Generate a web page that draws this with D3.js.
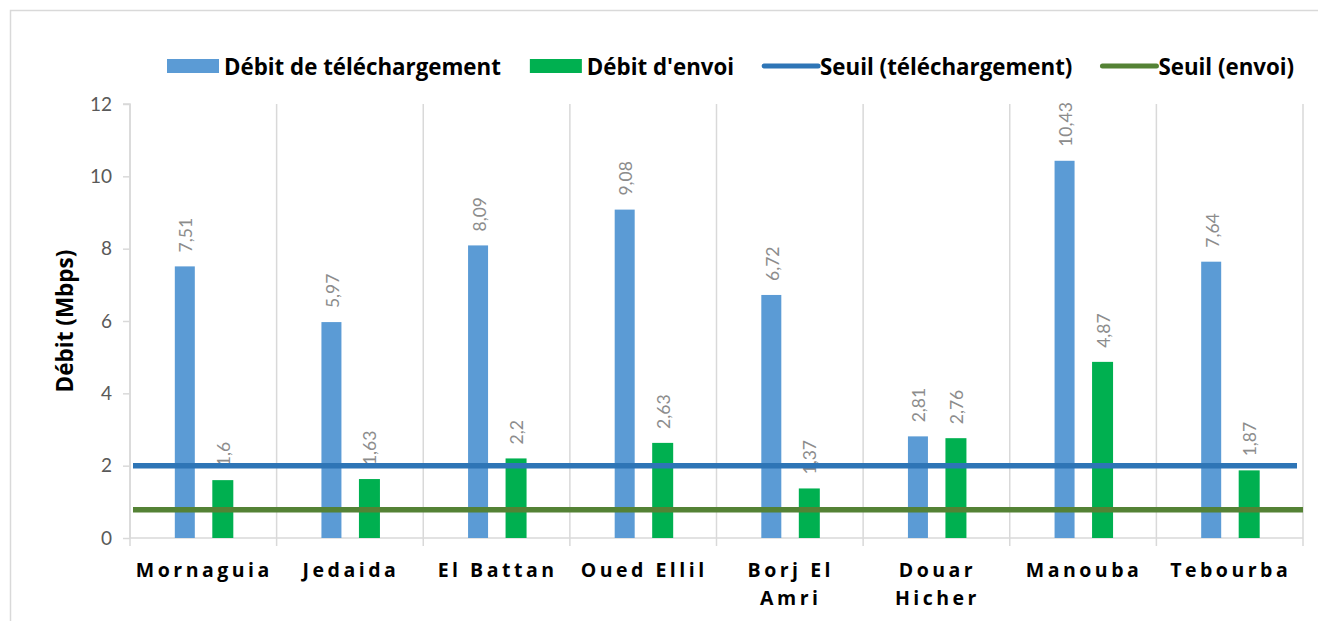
<!DOCTYPE html>
<html>
<head>
<meta charset="utf-8">
<script src="https://cdn.jsdelivr.net/npm/d3@7"></script>
<style>
  html, body { margin: 0; padding: 0; background: #ffffff; }
  svg { display: block; }
  text { font-family: Lato, "Open Sans", sans-serif; }
  .bold { font-family: "Open Sans", Lato, sans-serif; font-weight: bold; }
</style>
</head>
<body>
<svg id="chart" width="1318" height="621"></svg>
<script>
// Délégations (two-line labels are split into lines)
const categories = ["Mornaguia", "Jedaida", "El Battan", "Oued Ellil", "Borj El Amri", "Douar Hicher", "Manouba", "Tebourba"];
const categoryLines = [["Mornaguia"], ["Jedaida"], ["El Battan"], ["Oued Ellil"], ["Borj El", "Amri"], ["Douar", "Hicher"], ["Manouba"], ["Tebourba"]];

// Measured speeds in Mbps
const downloadValues = [7.51, 5.97, 8.09, 9.08, 6.72, 2.81, 10.43, 7.64];
const uploadValues = [1.6, 1.63, 2.2, 2.63, 1.37, 2.76, 4.87, 1.87];

// Reference thresholds in Mbps
const thresholdDownload = 2;
const thresholdUpload = 0.78;

const yTicks = [0, 2, 4, 6, 8, 10, 12];

const seriesNames = ["Débit de téléchargement", "Débit d'envoi", "Seuil (téléchargement)", "Seuil (envoi)"];

const colors = {
  download: "#5b9bd5",
  upload: "#00b050",
  lineDownload: "#2e75b6",
  lineUpload: "#548235"
};

const fmt = v => String(v).replace(".", ",");

const svg = d3.select("#chart");

// outer frame
svg.append("rect")
  .attr("x", 10.5).attr("y", 10.5)
  .attr("width", 1400).attr("height", 700)
  .attr("fill", "none").attr("stroke", "#d9d9d9").attr("stroke-width", 1.5);

const plot = { left: 130, right: 1303, top: 104, bottom: 538 };

const x = d3.scaleBand().domain(categories).range([plot.left, plot.right]).padding(0);
const y = d3.scaleLinear().domain([0, 12]).range([plot.bottom, plot.top]);

const barW = 20;
const offDown = -18.5;
const offUp = 19;

// vertical separators between categories
const bounds = categories.map(c => x(c)).concat([plot.right]);
svg.append("g").selectAll("line").data(bounds).join("line")
  .attr("x1", d => d).attr("x2", d => d)
  .attr("y1", plot.top).attr("y2", plot.bottom + 8)
  .attr("stroke", "#d9d9d9").attr("stroke-width", 1.5);

// y axis
const yAxis = svg.append("g")
  .attr("transform", `translate(${plot.left},0)`)
  .call(d3.axisLeft(y).tickValues(yTicks).tickSize(7).tickPadding(11).tickFormat(d => d));
yAxis.select(".domain").attr("stroke", "#d9d9d9").attr("stroke-width", 1.5)
  .attr("d", `M-7,${plot.top}H0V${plot.bottom}`);
yAxis.selectAll(".tick line").attr("stroke", "#d9d9d9").attr("stroke-width", 1.5);
yAxis.selectAll(".tick text")
  .attr("fill", "#595959").style("font-size", "19px")
  .style("font-family", "Lato, sans-serif");

// x baseline
svg.append("line")
  .attr("x1", plot.left).attr("x2", plot.right)
  .attr("y1", plot.bottom).attr("y2", plot.bottom)
  .attr("stroke", "#d9d9d9").attr("stroke-width", 1.5);

// y axis title
svg.append("text")
  .attr("class", "bold")
  .attr("transform", "translate(73,321) rotate(-90)")
  .attr("text-anchor", "middle")
  .attr("font-size", 22.5).attr("fill", "#000")
  .text("Débit (Mbps)");

// bars
const cx = c => x(c) + x.bandwidth() / 2;
svg.append("g").selectAll("rect").data(categories).join("rect")
  .attr("x", (c, i) => cx(c) + offDown - barW / 2)
  .attr("y", (c, i) => y(downloadValues[i]))
  .attr("width", barW)
  .attr("height", (c, i) => y(0) - y(downloadValues[i]))
  .attr("fill", colors.download);

svg.append("g").selectAll("rect").data(categories).join("rect")
  .attr("x", (c, i) => cx(c) + offUp - barW / 2)
  .attr("y", (c, i) => y(uploadValues[i]))
  .attr("width", barW + 1)
  .attr("height", (c, i) => y(0) - y(uploadValues[i]))
  .attr("fill", colors.upload);

// value labels (rotated)
function addLabels(values, off) {
  svg.append("g").selectAll("text").data(categories).join("text")
    .attr("transform", (c, i) => `translate(${cx(c) + off + 1},${y(values[i]) - 14}) rotate(-90)`)
    .attr("text-anchor", "start")
    .attr("dominant-baseline", "central")
    .attr("font-size", 17.5).attr("fill", "#8c8c8c")
    .text((c, i) => fmt(values[i]));
}
addLabels(downloadValues, offDown);
addLabels(uploadValues, offUp);

// threshold lines (drawn over labels)
svg.append("line")
  .attr("x1", plot.left + 3).attr("x2", plot.right - 6)
  .attr("y1", y(thresholdDownload)).attr("y2", y(thresholdDownload))
  .attr("stroke", colors.lineDownload).attr("stroke-width", 5.5);
svg.append("line")
  .attr("x1", plot.left + 3).attr("x2", plot.right)
  .attr("y1", y(thresholdUpload)).attr("y2", y(thresholdUpload))
  .attr("stroke", colors.lineUpload).attr("stroke-width", 5.5);

// category labels
const xl = svg.append("g").selectAll("text").data(categories).join("text")
  .attr("class", "bold")
  .attr("x", c => cx(c))
  .attr("y", 577)
  .attr("text-anchor", "middle")
  .attr("font-size", 19.5)
  .attr("letter-spacing", "3.5px")
  .attr("fill", "#000");
xl.each(function(c, i) {
  const t = d3.select(this);
  categoryLines[i].forEach((ln, k) => {
    t.append("tspan").attr("x", cx(c) + 1).attr("dy", k === 0 ? 0 : 28).text(ln);
  });
});

// legend
const legendItems = [
  { name: seriesNames[0], type: "rect", color: colors.download },
  { name: seriesNames[1], type: "rect", color: colors.upload },
  { name: seriesNames[2], type: "line", color: colors.lineDownload },
  { name: seriesNames[3], type: "line", color: colors.lineUpload }
];
const legend = svg.append("g");
let lx = 167;
const ly = 66;
legendItems.forEach(item => {
  if (item.type === "rect") {
    legend.append("rect").attr("x", lx).attr("y", ly - 7).attr("width", 52).attr("height", 14).attr("fill", item.color);
  } else {
    legend.append("line").attr("x1", lx + 1).attr("x2", lx + 55).attr("y1", ly).attr("y2", ly)
      .attr("stroke", item.color).attr("stroke-width", 5).attr("stroke-linecap", "round");
  }
  const t = legend.append("text")
    .attr("class", "bold")
    .attr("x", lx + 57).attr("y", ly)
    .attr("dominant-baseline", "central")
    .attr("font-size", 22.3).attr("fill", "#000")
    .text(item.name);
  lx += 57 + t.node().getComputedTextLength() + 29;
});
</script>
</body>
</html>
